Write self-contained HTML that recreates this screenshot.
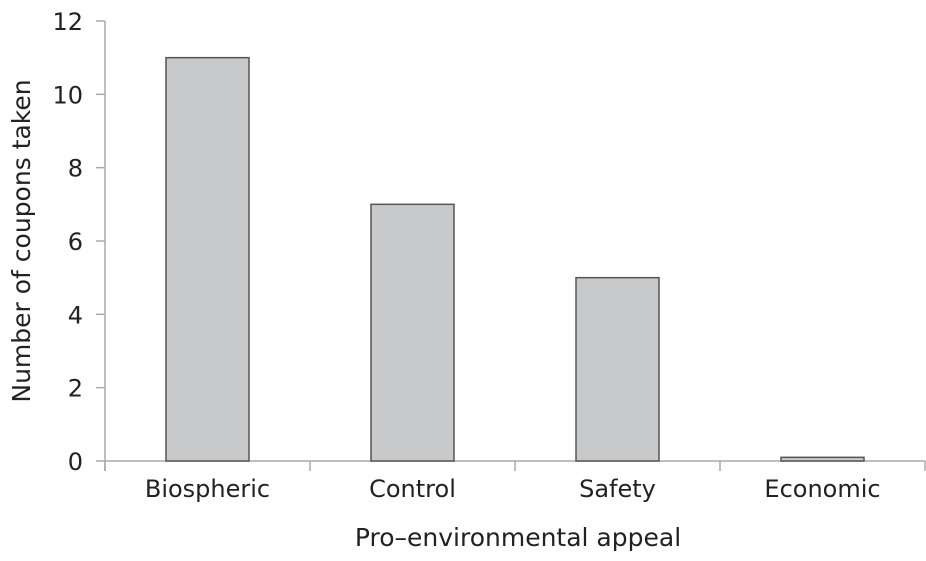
<!DOCTYPE html>
<html><head><meta charset="utf-8"><style>
body{margin:0;background:#fff;}
svg text{font-family:"DejaVu Sans","Liberation Sans",sans-serif;fill:#222;}
</style></head><body>
<svg width="926" height="556" id="chart">
</svg>
<script>
const categories=["Biospheric","Control","Safety","Economic"];
const values=[11,7,5,0.1];
const yTicks=[0,2,4,6,8,10,12];
const NS="http://www.w3.org/2000/svg";
const svg=document.getElementById('chart');
const x0=105,x1=925,y0=461,yTop=21,yMax=12,band=205,barW=83;
function y(v){return y0-(v/yMax)*(y0-yTop);}
function xc(i){return x0+band*(i+0.5);}
function mk(t,a,parent){const e=document.createElementNS(NS,t);for(const k in a)e.setAttribute(k,a[k]);(parent||svg).appendChild(e);return e;}
const axisG=mk('g',{});


mk('line',{x1:x0,y1:yTop,x2:x0,y2:y0+10,stroke:'#aaa','stroke-width':1.5},axisG);
mk('line',{x1:x0,y1:y0,x2:x1,y2:y0,stroke:'#aaa','stroke-width':1.5},axisG);
yTicks.forEach(t=>{
 mk('line',{x1:96,y1:y(t),x2:x0,y2:y(t),stroke:'#aaa','stroke-width':1.5},axisG);
 const tx=mk('text',{x:83,y:y(t)+9,'text-anchor':'end','font-size':24},axisG);
 
 
 tx.textContent=t;
});
for(let i=0;i<=categories.length;i++){
 mk('line',{x1:x0+band*i,y1:y0,x2:x0+band*i,y2:y0+10,stroke:'#aaa','stroke-width':1.5},axisG);
}
categories.forEach((c,i)=>{
 const r=mk('rect',{x:xc(i)-barW/2,y:y(values[i]),width:barW,height:y0-y(values[i]),fill:'#c8c9cb',stroke:'#555','stroke-width':1.5});
 
 
 const t=mk('text',{x:xc(i),y:497,'text-anchor':'middle','font-size':24});
 
 
 t.textContent=c;
});
const xt=mk('text',{x:518,y:546,'text-anchor':'middle','font-size':25});


xt.textContent='Pro–environmental appeal';
const yt=mk('text',{x:0,y:0,'text-anchor':'middle','font-size':25,transform:'translate(30,241) rotate(-90)'});


yt.textContent='Number of coupons taken';
</script>
</body></html>
